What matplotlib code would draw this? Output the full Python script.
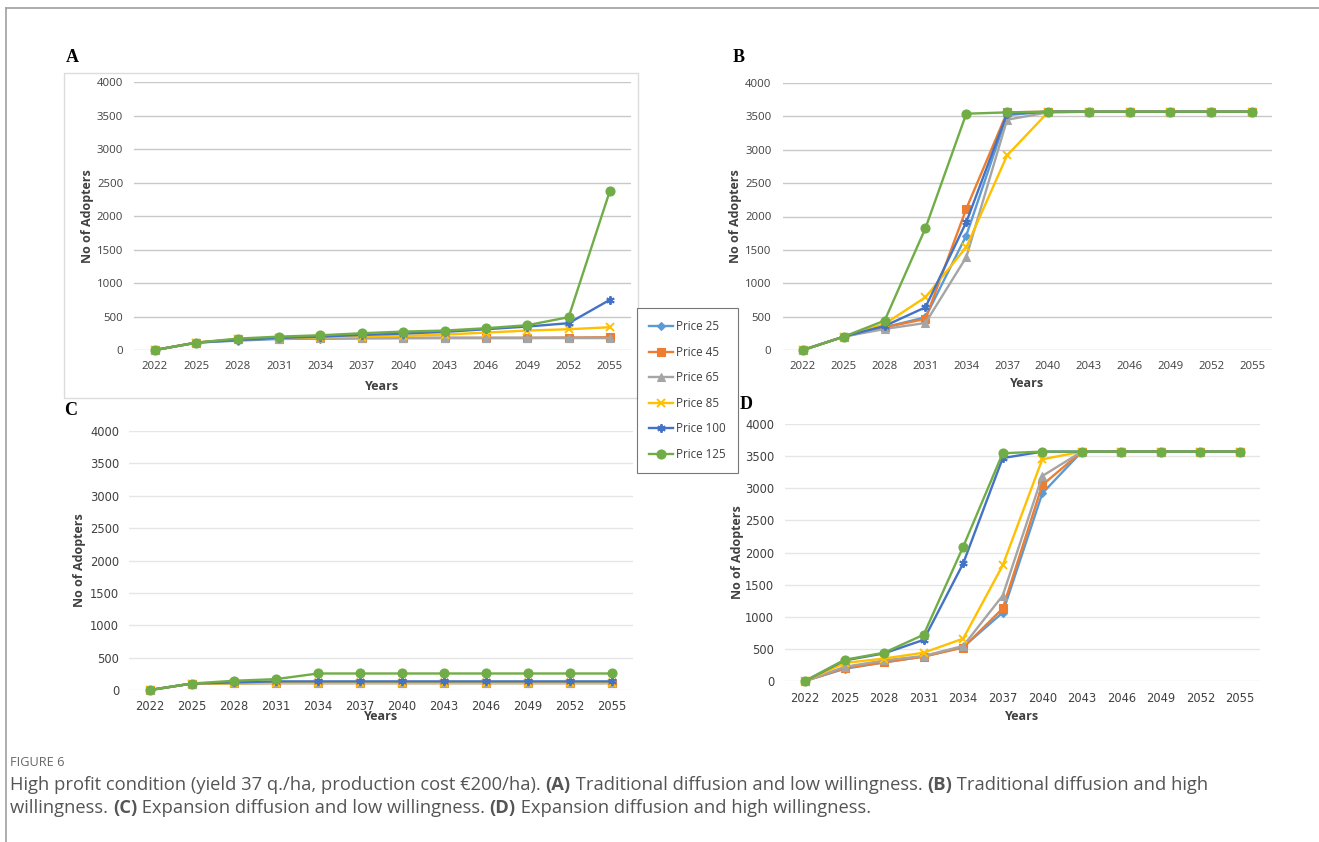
import matplotlib
matplotlib.use("Agg")
import matplotlib.pyplot as plt
from matplotlib.lines import Line2D
from matplotlib.patches import Rectangle

W, H = 1319, 842

years = [2022, 2025, 2028, 2031, 2034, 2037, 2040, 2043, 2046, 2049, 2052, 2055]
labels = ["Price 25", "Price 45", "Price 65", "Price 85", "Price 100", "Price 125"]

# panel A - traditional diffusion, low willingness
a_p25  = [0, 110, 140, 165, 170, 175, 178, 180, 180, 180, 180, 180]
a_p45  = [0, 110, 160, 170, 175, 180, 180, 180, 180, 180, 185, 190]
a_p65  = [0, 110, 160, 170, 175, 180, 180, 180, 180, 180, 180, 180]
a_p85  = [0, 110, 160, 175, 190, 200, 210, 230, 260, 290, 310, 340]
a_p100 = [0, 110, 150, 180, 200, 225, 245, 270, 310, 350, 400, 750]
a_p125 = [0, 110, 170, 200, 220, 250, 275, 290, 325, 370, 490, 2380]

# panel B - traditional diffusion, high willingness
b_p25  = [0, 200, 340, 490, 1715, 3520, 3570, 3570, 3570, 3570, 3570, 3570]
b_p45  = [0, 200, 340, 465, 2115, 3560, 3570, 3570, 3570, 3570, 3570, 3570]
b_p65  = [0, 200, 315, 405, 1390, 3450, 3560, 3570, 3570, 3570, 3570, 3570]
b_p85  = [0, 200, 390, 790, 1540, 2915, 3560, 3570, 3570, 3570, 3570, 3570]
b_p100 = [0, 200, 360, 640, 1915, 3540, 3570, 3570, 3570, 3570, 3570, 3570]
b_p125 = [0, 200, 440, 1825, 3540, 3560, 3570, 3570, 3570, 3570, 3570, 3570]

# panel C - expansion diffusion, low willingness
c_p25  = [0, 100, 105, 108, 108, 108, 108, 108, 108, 108, 108, 108]
c_p45  = [0, 100, 105, 108, 108, 108, 108, 108, 108, 108, 108, 108]
c_p65  = [0, 100, 105, 108, 108, 108, 108, 108, 108, 108, 108, 108]
c_p85  = [0, 100, 105, 110, 110, 110, 110, 110, 110, 110, 110, 110]
c_p100 = [0, 100, 117, 133, 133, 133, 133, 133, 133, 133, 133, 133]
c_p125 = [0, 100, 143, 168, 255, 255, 255, 255, 255, 255, 255, 255]

# panel D - expansion diffusion, high willingness
d_p25  = [0, 190, 290, 380, 530, 1065, 2920, 3570, 3570, 3570, 3570, 3570]
d_p45  = [0, 200, 290, 380, 520, 1130, 3050, 3570, 3570, 3570, 3570, 3570]
d_p65  = [0, 220, 320, 390, 545, 1330, 3190, 3570, 3570, 3570, 3570, 3570]
d_p85  = [0, 280, 350, 440, 660, 1800, 3450, 3570, 3570, 3570, 3570, 3570]
d_p100 = [0, 320, 430, 640, 1830, 3470, 3570, 3570, 3570, 3570, 3570, 3570]
d_p125 = [0, 330, 440, 720, 2090, 3545, 3570, 3570, 3570, 3570, 3570, 3570]

COLORS  = ["#5B9BD5", "#ED7D31", "#A5A5A5", "#FFC000", "#4472C4", "#70AD47"]
MARKERS = ["D", "s", "^", "x", (6, 2, 0), "o"]
MSIZES  = [4.5, 5.5, 5.5, 6, 6, 6.5]

TEXT = "#404040"

fig = plt.figure(figsize=(W / 100, H / 100), dpi=100)
fig.patch.set_facecolor("white")


def px_axes(left, top, right, bottom):
    return fig.add_axes([left / W, 1 - bottom / H, (right - left) / W, (bottom - top) / H])


def draw_panel(series, left, right, top, bottom, grid_col, tick_font, tick_size, letter,
               letter_xy, ylab_x, years_y, tick_pad):
    step = (right - left) / 11
    ax = px_axes(left - step / 2, top, right + step / 2, bottom)
    for vals, col, mk, ms in zip(series, COLORS, MARKERS, MSIZES):
        ax.plot(years, vals, color=col, lw=1.7, marker=mk, ms=ms,
                mew=1.4 if mk in ("x", (6, 2, 0)) else 0.8, mec=col, mfc=col, clip_on=False)
    ax.set_xlim(2020.5, 2056.5)
    ax.set_ylim(0, 4000)
    ax.set_yticks(range(0, 4001, 500))
    ax.set_xticks(years)
    ax.grid(axis="y", color=grid_col, lw=1.0)
    ax.set_axisbelow(True)
    for s in ax.spines.values():
        s.set_visible(False)
    ax.tick_params(length=0, labelsize=tick_size, colors=TEXT, pad=tick_pad)
    for t in ax.get_xticklabels() + ax.get_yticklabels():
        t.set_family(tick_font)
    cx = (left + right) / 2
    fig.text(cx / W, 1 - years_y / H, "Years", ha="center", va="center",
             fontsize=9, fontweight="bold", color=TEXT, family="Open Sans")
    fig.text(ylab_x / W, 1 - (top + bottom) / 2 / H, "No of Adopters", rotation=90,
             ha="center", va="center", fontsize=9, fontweight="bold", color=TEXT,
             family="Open Sans")
    fig.text(letter_xy[0] / W, 1 - letter_xy[1] / H, letter, ha="left", va="center",
             fontsize=13, fontweight="bold", family="Liberation Serif", color="black")
    return ax


# light frame around panel A
fig.patches.append(Rectangle((64 / W, 1 - 398 / H), (638 - 64) / W, (398 - 73) / H,
                             transform=fig.transFigure, fill=False, ec="#dcdcdc", lw=1.0))

draw_panel([a_p25, a_p45, a_p65, a_p85, a_p100, a_p125], 155, 610, 82, 350,
           "#c8c8c8", "Open Sans", 8.2, "A", (66, 57), 87, 386, 8)
draw_panel([b_p25, b_p45, b_p65, b_p85, b_p100, b_p125], 803, 1252, 83, 350,
           "#c8c8c8", "Open Sans", 8.2, "B", (733, 57), 735, 384, 8)
draw_panel([c_p25, c_p45, c_p65, c_p85, c_p100, c_p125], 150, 612, 431, 690,
           "#e6e6e6", "DejaVu Sans", 8.3, "C", (64, 411), 80, 717, 7)
draw_panel([d_p25, d_p45, d_p65, d_p85, d_p100, d_p125], 805, 1240, 424, 681,
           "#e6e6e6", "DejaVu Sans", 8.3, "D", (740, 404), 737, 717, 8)

# shared legend between the panels
handles = [Line2D([], [], color=c, marker=m, ms=ms, lw=1.7, mec=c, mfc=c,
                  mew=1.4 if m in ("x", (6, 2, 0)) else 0.8)
           for c, m, ms in zip(COLORS, MARKERS, MSIZES)]
leg = fig.legend(handles, labels, loc="upper left",
                 bbox_to_anchor=(637 / W, 1 - 308 / H), borderaxespad=0,
                 frameon=True, fancybox=False, edgecolor="#555555",
                 handlelength=2.0, handletextpad=0.25, labelspacing=1.07,
                 borderpad=1.05, prop={"family": "Open Sans", "size": 8.4})
leg.get_frame().set_linewidth(0.8)
for t in leg.get_texts():
    t.set_color(TEXT)

# page frame lines
fig.add_artist(Line2D([6 / W, 1], [1 - 8 / H, 1 - 8 / H], transform=fig.transFigure,
                      color="#a0a0a0", lw=1.2))
fig.add_artist(Line2D([6 / W, 6 / W], [1 - 8 / H, 0], transform=fig.transFigure,
                      color="#a0a0a0", lw=1.2))

# caption
CAP = "#555555"
fig.text(10 / W, 1 - 763 / H, "FIGURE 6", ha="left", va="center", fontsize=9.2,
         color="#666666", family="Open Sans")

line1 = [("High profit condition (yield 37 q./ha, production cost \u20ac200/ha). ", "normal"),
         ("(A)", "bold"), (" Traditional diffusion and low willingness. ", "normal"),
         ("(B)", "bold"), (" Traditional diffusion and high", "normal")]
line2 = [("willingness. ", "normal"), ("(C)", "bold"),
         (" Expansion diffusion and low willingness. ", "normal"), ("(D)", "bold"),
         (" Expansion diffusion and high willingness.", "normal")]

for parts, y in ((line1, 785), (line2, 808)):
    prev = None
    for txt, wt in parts:
        if prev is None:
            prev = fig.text(10 / W, 1 - y / H, txt, ha="left", va="center", fontsize=13.2,
                            color=CAP, fontweight=wt, family="Open Sans")
        else:
            prev = fig.add_artist(plt.Annotation(txt, xy=(1, 0.5), xycoords=prev,
                                                 ha="left", va="center", fontsize=13.2,
                                                 color=CAP, fontweight=wt,
                                                 family="Open Sans"))

fig.savefig("out.png", dpi=100, facecolor="white")
